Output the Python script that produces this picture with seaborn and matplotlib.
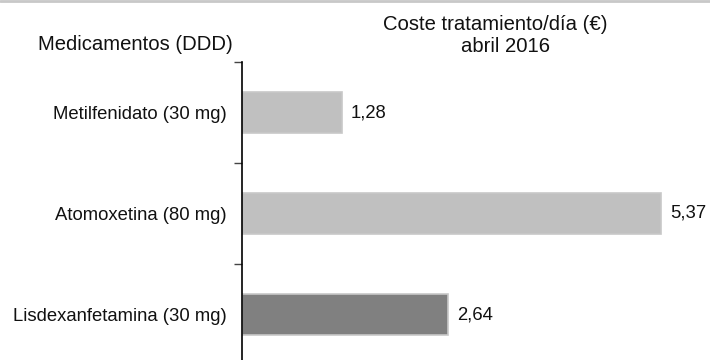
import matplotlib
matplotlib.use("Agg")
import matplotlib.pyplot as plt
import seaborn as sns
import pandas as pd
from matplotlib.lines import Line2D

categories = ["Metilfenidato (30 mg)", "Atomoxetina (80 mg)", "Lisdexanfetamina (30 mg)"]
values = [1.28, 5.37, 2.64]
value_labels = ["1,28", "5,37", "2,64"]
bar_colors = ["#c0c0c0", "#c0c0c0", "#808080"]

header_left = "Medicamentos (DDD)"
header_right_1 = "Coste tratamiento/día (€)"
header_right_2 = "abril 2016"

sns.set_theme(style="white")
plt.rcParams["font.family"] = ["Liberation Sans", "DejaVu Sans"]

df = pd.DataFrame({"Medicamento": categories, "Coste": values})

fig = plt.figure(figsize=(7.1, 3.6), dpi=100)
ax = fig.add_axes([242 / 710, 1 - 365 / 360, 468 / 710, 303 / 360])

sns.barplot(data=df, x="Coste", y="Medicamento", hue="Medicamento",
            palette=bar_colors, orient="h", width=0.41, legend=False,
            edgecolor="#c8c8c8", linewidth=1.2, ax=ax)

ax.set_xlim(0, 6)
ax.set_ylim(2.5, -0.5)
ax.set_xlabel("")
ax.set_ylabel("")
ax.set_xticks([])

for s in ["top", "right", "bottom"]:
    ax.spines[s].set_visible(False)
ax.spines["left"].set_color("black")
ax.spines["left"].set_linewidth(1.2)

ax.tick_params(axis="y", which="major", length=0, pad=11, labelsize=13.3, labelcolor="#111111")
ax.set_yticks([-0.5, 0.5, 1.5], minor=True)
ax.tick_params(axis="y", which="minor", length=5.5, width=1.0, color="#444444", left=True)

for container, lab in zip(ax.containers, value_labels):
    ax.bar_label(container, labels=[lab], padding=6.5, fontsize=13.3, color="#111111")

fig.text(135 / 710, 1 - 45 / 360, header_left, ha="center", va="center",
         fontsize=14.6, color="#111111")
fig.text(495 / 710, 1 - 24 / 360, header_right_1, ha="center", va="center",
         fontsize=14.6, color="#111111")
fig.text(505 / 710, 1 - 47 / 360, header_right_2, ha="center", va="center",
         fontsize=14.6, color="#111111")

fig.add_artist(Line2D([0, 1], [0.997, 0.997], transform=fig.transFigure,
                      color="#c8c8c8", linewidth=2))

fig.savefig("out.png", dpi=100)
